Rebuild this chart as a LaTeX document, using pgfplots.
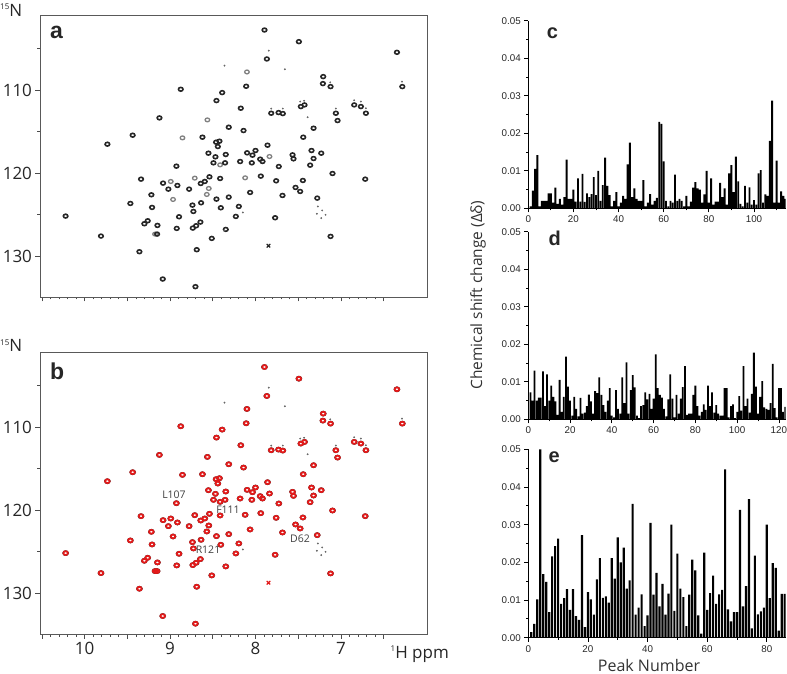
\documentclass[border=0pt]{standalone}
\usepackage{pgfplots}
\pgfplotsset{compat=1.18}
\usepackage{pgfplotstable}
\usepackage{fontspec}
\setmainfont{Open Sans}
\newfontfamily\arial{Liberation Sans}
\definecolor{nmrred}{RGB}{226,26,26}

\pgfplotstableread{
H N
7.895 102.8
7.492 104.2
6.344 105.48
7.867 106.28
8.109 109.56
7.207 108.4
7.211 109.24
7.121 109.6
6.281 109.6
8.875 109.92
8.39 110.32
8.457 111.28
8.172 112.2
7.816 112.8
7.73 112.72
7.68 112.84
7.469 112.0
7.426 111.8
7.059 112.8
7.039 113.68
6.844 111.8
6.766 112.0
6.707 112.8
9.125 113.36
8.313 114.48
8.14 114.88
7.32 114.6
9.438 115.44
8.621 115.68
7.441 115.68
9.734 116.52
8.461 116.28
8.422 116.16
8.441 116.8
7.859 116.64
8.551 117.6
8.469 118.04
8.348 117.76
8.098 117.56
8.035 117.84
8.0 117.28
7.945 118.32
7.918 118.6
7.566 117.8
7.555 118.28
7.344 117.28
7.32 118.24
7.23 117.6
7.36 119.04
8.492 118.76
8.356 118.76
8.18 118.6
8.043 118.76
8.926 119.16
7.727 119.2
7.098 120.04
6.715 120.72
9.34 120.72
8.539 120.44
8.594 121.0
8.641 121.24
8.414 120.64
7.938 120.36
7.758 120.92
7.445 120.88
9.082 121.2
9.02 121.92
8.914 121.48
8.777 121.92
8.063 122.32
7.531 121.72
7.477 122.2
9.219 122.6
8.457 123.12
8.313 122.88
7.684 122.68
7.277 123.0
9.465 123.64
8.738 123.84
8.637 123.56
9.211 124.12
8.406 124.16
8.195 124.0
8.727 124.6
8.895 125.24
7.77 125.36
8.23 125.2
10.223 125.16
9.301 126.08
9.262 125.72
9.148 126.28
9.152 127.32
8.734 126.6
8.695 126.32
8.645 125.88
8.922 126.64
8.348 126.76
9.809 127.56
8.512 127.84
7.121 127.6
9.359 129.44
8.688 129.2
9.086 132.72
8.703 133.64
}\darkpeaks

\pgfplotstableread{
H N
8.10 107.84
8.563 113.6
8.855 115.76
7.836 118.0
8.414 119.0
8.711 120.6
8.121 120.56
8.992 121.0
8.547 121.84
8.57 122.56
8.965 123.16
9.176 127.32
}\graypeaks

\pgfplotstableread{
H N
7.844 105.28
8.363 107.08
7.656 107.52
7.39 113.28
7.125 109.08
6.285 109.0
7.477 111.4
7.43 111.3
7.816 112.24
7.68 112.24
6.844 111.24
6.766 111.4
6.707 112.2
7.059 112.24
8.148 124.72
8.367 126.88
7.27 124.0
7.219 124.48
7.281 124.88
7.18 125.0
7.23 125.4
}\tinypeaks

\pgfplotstableread{
x y
1 0.0005
2 0.0047
3 0.0105
4 0.0142
5 0.0005
6 0.0020
7 0.0020
8 0.0020
9 0.0040
10 0.0040
11 0.0015
12 0.0055
13 0.0012
14 0.0025
15 0.0010
16 0.0030
17 0.0130
18 0.0025
19 0.0025
20 0.0050
21 0.0018
22 0.0080
23 0.0018
24 0.0092
25 0.0017
26 0.0040
27 0.0030
28 0.0038
29 0.0083
30 0.0035
31 0.0100
32 0.0020
33 0.0062
34 0.0135
35 0.0060
36 0.0035
37 0.0005
38 0.0020
39 0.0043
40 0.0005
41 0.0015
42 0.0033
43 0.0025
44 0.0117
45 0.0175
46 0.0030
47 0.0053
48 0.0025
49 0.0020
50 0.0020
51 0.0075
52 0.0005
53 0.0015
54 0.0038
55 0.0010
56 0.0020
57 0.0028
58 0.0230
59 0.0225
60 0.0125
61 0.0020
62 0.0005
63 0.0020
64 0.0015
65 0.0090
66 0.0020
67 0.0025
68 0.0020
69 0.0005
70 0.0033
71 0.0005
72 0.0018
73 0.0055
74 0.0070
75 0.0053
76 0.0050
77 0.0015
78 0.0037
79 0.0100
80 0.0015
81 0.0080
82 0.0010
83 0.0018
84 0.0018
85 0.0068
86 0.0030
87 0.0053
88 0.0010
89 0.0093
90 0.0115
91 0.0043
92 0.0138
93 0.0072
94 0.0012
95 0.0005
96 0.0060
97 0.0015
98 0.0056
99 0.0010
100 0.0022
101 0.0010
102 0.0093
103 0.0102
104 0.0015
105 0.0037
106 0.0033
107 0.0180
108 0.0287
109 0.0015
110 0.0127
111 0.0015
112 0.0045
113 0.0033
114 0.0025
}\cdata

\pgfplotstableread{
x y
1 0.0072
2 0.0050
3 0.0130
4 0.0050
5 0.0058
6 0.0058
7 0.0128
8 0.0035
9 0.0120
10 0.0050
11 0.0090
12 0.0060
13 0.0048
14 0.0012
15 0.0105
16 0.0020
17 0.0060
18 0.0167
19 0.0087
20 0.0050
21 0.0010
22 0.0060
23 0.0028
24 0.0008
25 0.0057
26 0.0015
27 0.0018
28 0.0035
29 0.0066
30 0.0048
31 0.0015
32 0.0075
33 0.0070
34 0.0112
35 0.0065
36 0.0038
37 0.0020
38 0.0050
39 0.0083
40 0.0010
41 0.0005
42 0.0078
43 0.0028
44 0.0015
45 0.0112
46 0.0043
47 0.0152
48 0.0015
49 0.0078
50 0.0118
51 0.0085
52 0.0010
53 0.0003
54 0.0035
55 0.0038
56 0.0072
57 0.0053
58 0.0068
59 0.0028
60 0.0055
61 0.0173
62 0.0083
63 0.0065
64 0.0058
65 0.0028
66 0.0008
67 0.0053
68 0.0120
69 0.0055
70 0.0005
71 0.0065
72 0.0015
73 0.0055
74 0.0086
75 0.0142
76 0.0012
77 0.0015
78 0.0015
79 0.0065
80 0.0090
81 0.0035
82 0.0010
83 0.0020
84 0.0040
85 0.0025
86 0.0090
87 0.0035
88 0.0072
89 0.0018
90 0.0038
91 0.0015
92 0.0010
93 0.0010
94 0.0083
95 0.0083
96 0.0005
97 0.0035
98 0.0040
99 0.0003
100 0.0020
101 0.0062
102 0.0023
103 0.0142
104 0.0035
105 0.0055
106 0.0018
107 0.0068
108 0.0178
109 0.0087
110 0.0015
111 0.0060
112 0.0102
113 0.0032
114 0.0028
115 0.0025
116 0.0043
117 0.0148
118 0.0030
119 0.0005
120 0.0083
121 0.0083
122 0.0020
123 0.0033
}\ddata

\pgfplotstableread{
x y
1 0.0015
2 0.0037
3 0.0102
4 0.0500
5 0.0169
6 0.0148
7 0.0068
8 0.0216
9 0.0243
10 0.0263
11 0.0090
12 0.0105
13 0.0129
14 0.0074
15 0.0129
16 0.0057
17 0.0047
18 0.0272
19 0.0028
20 0.0121
21 0.0102
22 0.0061
23 0.0155
24 0.0211
25 0.0106
26 0.0110
27 0.0093
28 0.0211
29 0.0157
30 0.0266
31 0.0200
32 0.0239
33 0.0130
34 0.0152
35 0.0355
36 0.0061
37 0.0080
38 0.0115
39 0.0031
40 0.0059
41 0.0305
42 0.0114
43 0.0172
44 0.0083
45 0.0143
46 0.0061
47 0.0117
48 0.0300
49 0.0071
50 0.0223
51 0.0130
52 0.0108
53 0.0031
54 0.0114
55 0.0207
56 0.0179
57 0.0059
58 0.0011
59 0.0226
60 0.0074
61 0.0118
62 0.0165
63 0.0090
64 0.0115
65 0.0127
66 0.0447
67 0.0075
68 0.0043
69 0.0068
70 0.0068
71 0.0339
72 0.0083
73 0.0137
74 0.0368
75 0.0025
76 0.0218
77 0.0062
78 0.0070
79 0.0080
80 0.0300
81 0.0105
82 0.0198
83 0.0185
84 0.0019
85 0.0116
86 0.0116
}\edata

\pgfplotsset{
  nmr/.style={
    scale only axis, width=387pt, height=281.3pt, anchor=south west,
    xmin=5.992, xmax=10.523, ymin=101.08, ymax=134.88,
    x dir=reverse, y dir=reverse,
    axis line style={black!65, line width=0.8pt},
    xtick={6.5,7,7.5,8,8.5,9,9.5,10,10.5}, minor x tick num=4,
    ytick={110,120,130}, minor ytick={105,115,125},
    xtick pos=bottom, ytick pos=left,
    tick align=outside, major tick length=4.5pt, minor tick length=2.5pt,
    every tick/.style={black!70, line width=0.7pt},
    ticklabel style={font=\fontsize{17}{17}\selectfont, text=black!85},
    /pgf/number format/assume math mode=true,
  },
  darkmk/.style={only marks, mark=o, mark size=1.9pt, black!85, line width=1.6pt, mark options={xscale=1.2}},
  graymk/.style={only marks, mark=o, mark size=1.9pt, black!50, line width=1.3pt, mark options={xscale=1.2}},
  tinymk/.style={only marks, mark=*, mark size=0.7pt, black!60},
  blkmk/.style={only marks, mark=o, mark size=2.2pt, black!85, line width=1.3pt, mark options={xscale=1.2}},
  redmk/.style={only marks, mark=o, mark size=1.9pt, nmrred, line width=1.8pt, mark options={xscale=1.2}},
  barax/.style={
    scale only axis, width=257.3pt, anchor=south west,
    xmin=0, ymin=0, ymax=0.05,
    axis x line*=bottom, axis y line*=left,
    x axis line style={-}, y axis line style={-},
    axis line style={black, line width=0.9pt},
    ytick={0,0.01,0.02,0.03,0.04,0.05},
    minor ytick={0.005,0.015,0.025,0.035,0.045},
    tick align=outside, major tick length=4pt, minor tick length=2pt,
    every tick/.style={black, line width=0.8pt},
    ticklabel style={font=\arial\fontsize{9.8}{10}\selectfont, text=black!85},
    yticklabel style={/pgf/number format/fixed, /pgf/number format/fixed zerofill, /pgf/number format/precision=2},
    scaled y ticks=false,
    /pgf/number format/assume math mode=true,
  },
}

\begin{document}
\begin{tikzpicture}[x=1pt,y=1pt]
\useasboundingbox (0,0) rectangle (787,674);

% panel a
\begin{axis}[nmr, at={(40pt,377pt)}, xticklabels={}]
\addplot[graymk] table[x=H,y=N]{\graypeaks};
\addplot[darkmk] table[x=H,y=N]{\darkpeaks};
\addplot[tinymk] table[x=H,y=N]{\tinypeaks};
\addplot[only marks, mark=x, mark size=2.5pt, black!85, line width=1.2pt] coordinates {(7.848,128.72)};
\end{axis}

% panel b
\begin{axis}[nmr, at={(40pt,40pt)}, xticklabels={,7,,8,,9,,10,}]
\addplot[blkmk] table[x=H,y=N]{\graypeaks};
\addplot[blkmk] table[x=H,y=N]{\darkpeaks};
\addplot[tinymk] table[x=H,y=N]{\tinypeaks};
\addplot[redmk] table[x=H,y=N]{\graypeaks};
\addplot[redmk] table[x=H,y=N]{\darkpeaks};
\addplot[only marks, mark=x, mark size=2.5pt, nmrred, line width=1.2pt] coordinates {(7.848,128.72)};
\end{axis}

% panel c
\begin{axis}[barax, at={(528.3pt,465.7pt)}, height=187.6pt, xmax=114,
  xtick={0,20,40,60,80,100}, minor xtick={10,30,50,70,90,110}]
\addplot[ybar, bar width=0.85, fill=black, draw=none] table[x=x,y=y]{\cdata};
\end{axis}

% panel d
\begin{axis}[barax, at={(528.3pt,254.7pt)}, height=187.6pt, xmax=123.2,
  xtick={0,20,40,60,80,100,120}, minor xtick={10,30,50,70,90,110}]
\addplot[ybar, bar width=0.85, fill=black, draw=none] table[x=x,y=y]{\ddata};
\end{axis}

% panel e
\begin{axis}[barax, at={(528.3pt,36.3pt)}, height=188.4pt, xmax=86.3,
  xtick={0,20,40,60,80}, minor xtick={10,30,50,70}]
\addplot[ybar, bar width=0.72, fill=black, draw=none] table[x=x,y=y]{\edata};
\end{axis}

% texts
\node[anchor=base west, inner sep=0pt, text=black!85] at (0,657.5) {\raisebox{6.5pt}{\fontsize{8}{8}\selectfont 15}\fontsize{17}{17}\selectfont N};
\node[anchor=base west, inner sep=0pt, text=black!85] at (0,322.3) {\raisebox{6.5pt}{\fontsize{8}{8}\selectfont 15}\fontsize{17}{17}\selectfont N};
\node[anchor=base west, inner sep=0pt, text=black!85] at (390.5,15.7) {\raisebox{6.5pt}{\fontsize{8}{8}\selectfont 1}\fontsize{17}{17}\selectfont H ppm};

\node[anchor=base west, inner sep=0pt, font=\arial\bfseries\fontsize{23}{23}\selectfont, text=black!85] at (50,635) {a};
\node[anchor=base west, inner sep=0pt, font=\arial\bfseries\fontsize{23}{23}\selectfont, text=black!85] at (50,294.7) {b};
\node[anchor=base west, inner sep=0pt, font=\arial\bfseries\fontsize{20}{20}\selectfont, text=black!85] at (546.7,635) {c};
\node[anchor=base west, inner sep=0pt, font=\arial\bfseries\fontsize{20}{20}\selectfont, text=black!85] at (548.3,428) {d};
\node[anchor=base west, inner sep=0pt, font=\arial\bfseries\fontsize{20}{20}\selectfont, text=black!85] at (548.3,211.3) {e};

\begin{scope}[every node/.style={inner sep=0pt, text=black!75, font=\fontsize{10.5}{10.5}\selectfont}]
\node at (174,179) {L107};
\node at (228,164) {F111};
\node at (208,124) {R121};
\node at (300,135) {D62};
\end{scope}

\node[rotate=90, inner sep=0pt, text=black!80, font=\fontsize{15.5}{15.5}\selectfont] at (478,379) {Chemical shift change (Δδ)};
\node[anchor=base, inner sep=0pt, text=black!80, font=\fontsize{16}{16}\selectfont] at (649,2.5) {Peak Number};
\end{tikzpicture}
\end{document}
